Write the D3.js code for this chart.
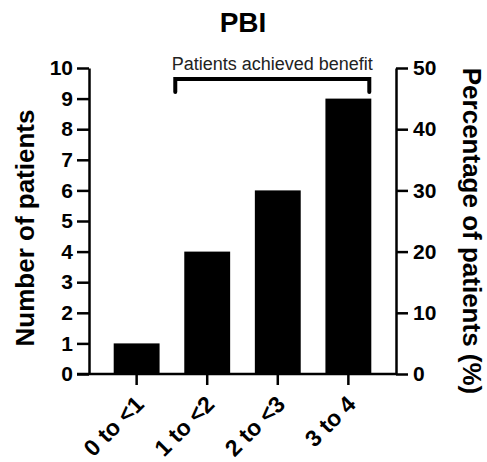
<!DOCTYPE html>
<html><head><meta charset="utf-8">
<script src="https://cdn.jsdelivr.net/npm/d3@7"></script>
<style>body{margin:0;background:#fff;} text{font-family:"Liberation Sans",Arial,sans-serif;}</style>
</head><body>
<svg id="c" width="487" height="462"></svg>
<script>
const categories = ["0 to <1", "1 to <2", "2 to <3", "3 to 4"];
const patients = [1, 4, 6, 9];
const leftTicks = [0,1,2,3,4,5,6,7,8,9,10];
const rightTicks = [0,10,20,30,40,50];
const title = "PBI";
const bracketLabel = "Patients achieved benefit";

const svg = d3.select("#c");
const L = 89, R = 396, T = 68, B = 374;
const x = d3.scaleBand().domain(categories).range([L, R]).paddingInner(0.35).paddingOuter(0.35);
const y = d3.scaleLinear().domain([0, 10]).range([B, T]);
const y2 = d3.scaleLinear().domain([0, 50]).range([B, T]);

svg.selectAll("rect.bar").data(patients).join("rect").attr("class","bar")
  .attr("x", (d,i)=>x(categories[i])).attr("width", x.bandwidth())
  .attr("y", d=>y(d)).attr("height", d=>B - y(d)).attr("fill","#000");

function style(g){
  g.attr("font-size", null);
  g.selectAll("path,line").attr("stroke","#000").attr("stroke-width",2.5);
  g.selectAll("text").attr("font-weight","bold").style("font-size","21px").attr("fill","#000");
}
svg.append("g").attr("transform",`translate(${L},0)`)
  .call(d3.axisLeft(y).tickValues(leftTicks).tickSize(12).tickSizeOuter(0).tickPadding(4))
  .call(style);
svg.append("g").attr("transform",`translate(${R},0)`)
  .call(d3.axisRight(y2).tickValues(rightTicks).tickSize(12).tickSizeOuter(0).tickPadding(5))
  .call(style);
const gx = svg.append("g").attr("transform",`translate(0,${B})`)
  .call(d3.axisBottom(x).tickSize(11).tickSizeOuter(0))
  .call(style);
gx.select(".domain").attr("d", `M${L-12},0H${R}`);
gx.selectAll("text").attr("text-anchor","end").style("font-size","23px")
  .attr("x",0).attr("y",0).attr("dy","0.35em")
  .attr("transform","translate(3,26) rotate(-45)");

svg.append("text").attr("x", 243).attr("y", 32).attr("text-anchor","middle")
  .attr("font-weight","bold").style("font-size","28px").text(title);

svg.append("text").attr("transform",`translate(34,228) rotate(-90)`)
  .attr("text-anchor","middle").attr("font-weight","bold").style("font-size","26px").text("Number of patients");
svg.append("text").attr("transform",`translate(463,231) rotate(90)`)
  .attr("text-anchor","middle").attr("font-weight","bold").style("font-size","26px").text("Percentage of patients (%)");

// bracket
const bx1 = x(categories[1]) - 9, bx2 = x(categories[3]) + x.bandwidth() - 2, by = 79;
svg.append("path").attr("d", `M${bx1},${by+13}V${by}H${bx2}V${by+13}`)
  .attr("fill","none").attr("stroke","#000").attr("stroke-width",4).attr("stroke-linecap","round");
svg.append("text").attr("x",(bx1+bx2)/2).attr("y", 70).attr("text-anchor","middle")
  .style("font-size","18px").attr("fill","#222").text(bracketLabel);
</script>
</body></html>
